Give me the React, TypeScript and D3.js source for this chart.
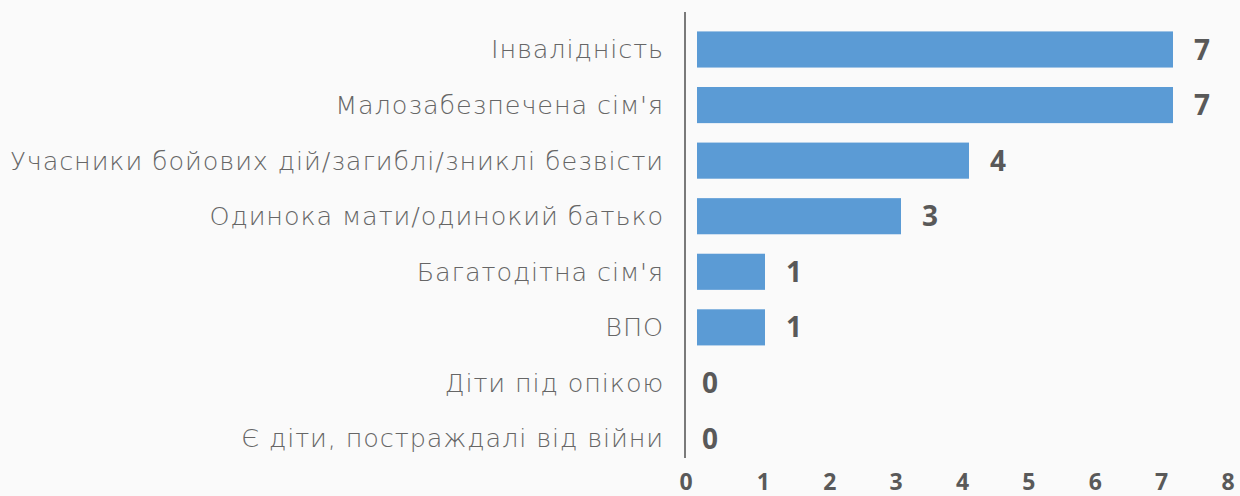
import React from "react";
import * as d3 from "d3";

const categories = [
  "Інвалідність",
  "Малозабезпечена сім'я",
  "Учасники бойових дій/загиблі/зниклі безвісти",
  "Одинока мати/одинокий батько",
  "Багатодітна сім'я",
  "ВПО",
  "Діти під опікою",
  "Є діти, постраждалі від війни",
];
const values = [7, 7, 4, 3, 1, 1, 0, 0];
const tickValues = [0, 1, 2, 3, 4, 5, 6, 7, 8];

const W = 1240;
const H = 496;

export default function App() {
  const x = d3.scaleLinear().domain([0, 8]).range([697, 1241]);
  const xTicks = d3.scaleLinear().domain([0, 8]).range([697, 1228]);
  const y = d3.scaleBand<string>().domain(categories).range([21.7, 466.3]).paddingInner(0.35).paddingOuter(0.175);
  const textColor = "#595959";
  return (
    <div style={{ position: "absolute", left: 0, top: 0, width: W, height: H, background: "#fafafa" }}>
      <svg width={W} height={H} style={{ display: "block" }}>
        <rect x={0} y={0} width={W} height={H} fill="#fafafa" />
        {categories.map((c, i) => {
          const yc = (y(c) as number) + y.bandwidth() / 2;
          return (
            <g key={c}>
              <text
                x={664}
                y={yc}
                dy="0.35em"
                textAnchor="end"
                fontFamily="'DejaVu Sans', sans-serif"
                fontWeight={200}
                fontSize={25.5}
                letterSpacing={0.9}
                fill="#666"
              >
                {c}
              </text>
              {values[i] > 0 && (
                <rect
                  x={x(0)}
                  y={y(c)}
                  width={x(values[i]) - x(0)}
                  height={y.bandwidth()}
                  fill="#5b9bd5"
                />
              )}
              <text
                x={x(values[i]) + (values[i] > 0 ? 21 : 5)}
                y={yc}
                dy="0.36em"
                fontFamily="'Open Sans', sans-serif"
                fontWeight={700}
                fontSize={28}
                fill={textColor}
              >
                {values[i]}
              </text>
            </g>
          );
        })}
        <line x1={685} x2={685} y1={12} y2={458} stroke="#7a7a7a" strokeWidth={2} />
        {tickValues.map((t) => (
          <text
            key={t}
            x={xTicks(t) - (t === 0 ? 11 : 0)}
            y={482}
            dy="0.36em"
            textAnchor="middle"
            fontFamily="'Open Sans', sans-serif"
            fontWeight={700}
            fontSize={23}
            fill={textColor}
          >
            {t}
          </text>
        ))}
      </svg>
    </div>
  );
}
